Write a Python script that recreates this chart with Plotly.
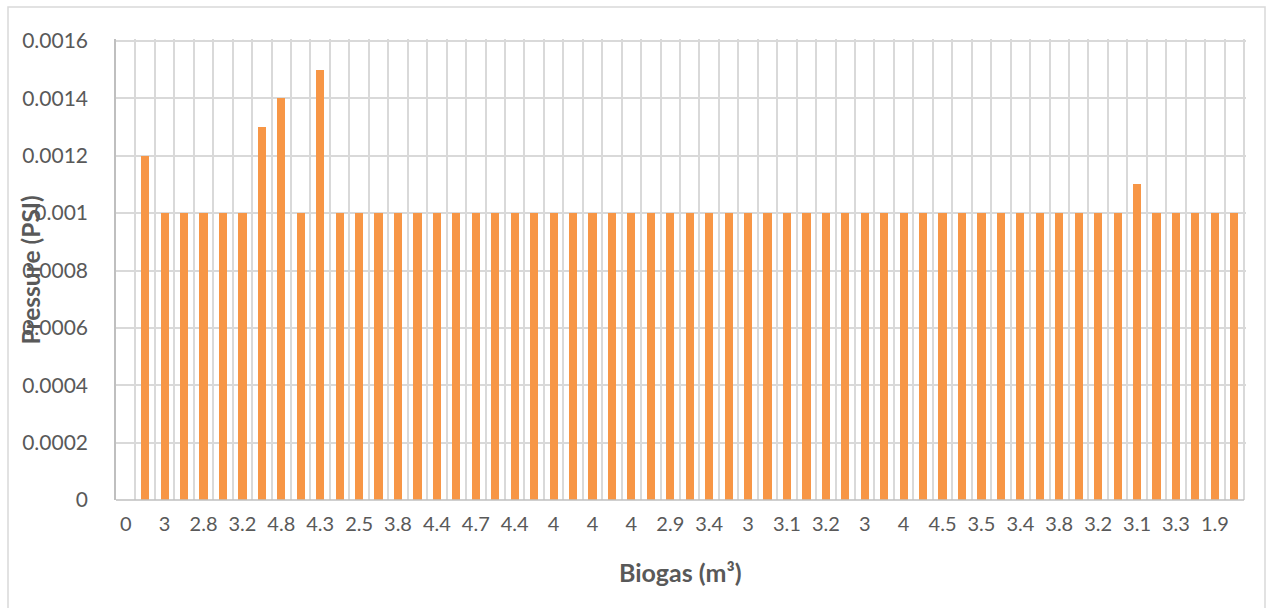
import plotly.graph_objects as go

# Biogas volume labels shown under every second column
biogas_labels = ["0", "3", "2.8", "3.2", "4.8", "4.3", "2.5", "3.8", "4.4", "4.7",
                 "4.4", "4", "4", "4", "2.9", "3.4", "3", "3.1", "3.2", "3",
                 "4", "4.5", "3.5", "3.4", "3.8", "3.2", "3.1", "3.3", "1.9"]

# Measured pressure (PSI) for each reading
pressure = [0, 0.0012, 0.001, 0.001, 0.001, 0.001, 0.001, 0.0013, 0.0014, 0.001,
            0.0015, 0.001, 0.001, 0.001, 0.001, 0.001, 0.001, 0.001, 0.001, 0.001,
            0.001, 0.001, 0.001, 0.001, 0.001, 0.001, 0.001, 0.001, 0.001, 0.001,
            0.001, 0.001, 0.001, 0.001, 0.001, 0.001, 0.001, 0.001, 0.001, 0.001,
            0.001, 0.001, 0.001, 0.001, 0.001, 0.001, 0.001, 0.001, 0.001, 0.001,
            0.001, 0.001, 0.0011, 0.001, 0.001, 0.001, 0.001, 0.001]

y_ticks = [0, 0.0002, 0.0004, 0.0006, 0.0008, 0.001, 0.0012, 0.0014, 0.0016]
y_tick_text = ["0", "0.0002", "0.0004", "0.0006", "0.0008", "0.001",
               "0.0012", "0.0014", "0.0016"]

n = len(pressure)
positions = list(range(n))
label_positions = positions[::2][:len(biogas_labels)]
boundaries = [i + 0.5 for i in range(-1, n)]

FONT = "Lato"
TEXT = "#595959"
GRID = "#d9d9d9"
AXIS = "#bfbfbf"

# A couple of pixels of headroom on the top and right so that the outermost
# gridlines are not dropped at the plot edges.
PLOT_H, PLOT_W = 461, 1130
Y_TOP = 0.0016 * PLOT_H / 459
X_RIGHT = -0.5 + n * PLOT_W / 1128

fig = go.Figure()
fig.add_trace(go.Bar(
    x=positions, y=pressure,
    marker=dict(color="#F79646", line=dict(width=0)),
    width=0.42, showlegend=False, hoverinfo="x+y",
))

fig.update_layout(
    width=1266, height=608,
    margin=dict(l=116, r=1266 - 116 - PLOT_W, t=608 - 108 - PLOT_H, b=108),
    paper_bgcolor="white", plot_bgcolor="white",
    font=dict(family=FONT, color=TEXT, size=20),
    xaxis=dict(range=[-0.5, X_RIGHT], tickmode="array",
               tickvals=label_positions, ticktext=biogas_labels,
               showgrid=False, zeroline=False, ticks="",
               showline=False,
               ticklabelstandoff=10,
               tickfont=dict(family=FONT, size=20, color=TEXT),
               # category boundaries carry the vertical gridlines
               minor=dict(tickmode="array", tickvals=boundaries, showgrid=True,
                          gridcolor=GRID, gridwidth=1.5, ticks="")),
    yaxis=dict(range=[0, Y_TOP], tickmode="array",
               tickvals=y_ticks, ticktext=y_tick_text,
               showgrid=True, gridcolor=GRID, gridwidth=1.5, zeroline=False,
               showline=True, linecolor=AXIS, linewidth=1.5, ticks="",
               ticklabelstandoff=22, tickfont=dict(family=FONT, size=21, color=TEXT)),
    annotations=[
        dict(text="<b>Biogas (m³)</b>", xref="paper", yref="paper",
             x=564 / PLOT_W, y=-72 / PLOT_H, xanchor="center", yanchor="middle",
             showarrow=False, font=dict(family=FONT, size=25, color=TEXT)),
        dict(text="<b>Pressure (PSI)</b>", xref="paper", yref="paper",
             x=-86 / PLOT_W, y=229.5 / PLOT_H, xanchor="center", yanchor="middle",
             showarrow=False, textangle=-90,
             font=dict(family=FONT, size=24.5, color=TEXT)),
    ],
    shapes=[
        # category axis line along the zero baseline
        dict(type="line", xref="paper", yref="paper", x0=0, x1=1128 / PLOT_W,
             y0=0, y1=0, line=dict(color=AXIS, width=1.5)),
        # chart area border
        dict(type="path", xref="paper", yref="paper",
             path=(f"M {-108 / PLOT_W} {-110 / PLOT_H} L {-108 / PLOT_W} {493 / PLOT_H} "
                   f"L {1149 / PLOT_W} {493 / PLOT_H} L {1149 / PLOT_W} {-110 / PLOT_H}"),
             line=dict(color=GRID, width=1.5)),
    ],
    bargap=0,
)

fig.write_html("out.html")
